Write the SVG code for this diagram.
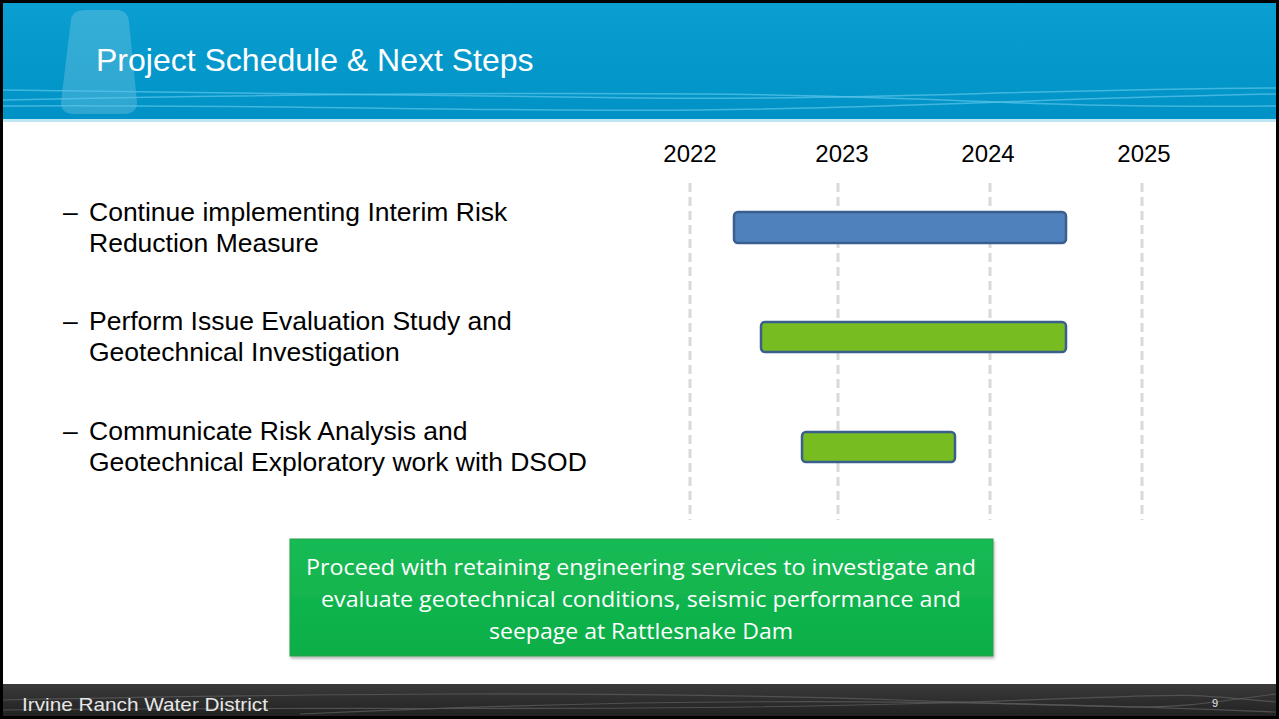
<svg xmlns="http://www.w3.org/2000/svg" width="1279" height="719" viewBox="0 0 1279 719">
<defs>
<style>
.bul{font-family:"Liberation Sans",Arial,sans-serif;font-size:26.5px;fill:#000}
.yr{font-family:"Liberation Sans",Arial,sans-serif;font-size:24px;fill:#000;text-anchor:middle}
.grid{stroke:#d9d9d9;stroke-width:3;stroke-dasharray:9 5}
.barb{fill:#4f81bd;stroke:#3a5f8f;stroke-width:2.5}
.barg{fill:#77bd21;stroke:#3a5f8f;stroke-width:2.5}
.box{font-family:"Open Sans","Noto Sans",sans-serif;font-size:22px;fill:#fff;text-anchor:middle}
.wave{fill:none;stroke:#5cc6ea;stroke-width:1.5;opacity:0.7}
.fwave{fill:none;stroke:#5a5a5a;stroke-width:1.2;opacity:0.8}
</style>
<linearGradient id="hdr" x1="0" y1="0" x2="0" y2="1">
<stop offset="0" stop-color="#0a9fd0"/>
<stop offset="1" stop-color="#0092c6"/>
</linearGradient>
<linearGradient id="ftr" x1="0" y1="0" x2="0" y2="1">
<stop offset="0" stop-color="#3a3a3a"/>
<stop offset="1" stop-color="#222"/>
</linearGradient>
<linearGradient id="gbox" x1="0" y1="0" x2="0" y2="1">
<stop offset="0" stop-color="#19bb55"/>
<stop offset="1" stop-color="#0aae47"/>
</linearGradient>
<filter id="sh" x="-5%" y="-10%" width="110%" height="130%">
<feDropShadow dx="1" dy="2" stdDeviation="1.5" flood-color="#000" flood-opacity="0.3"/>
</filter>
</defs>
<rect x="0" y="0" width="1279" height="719" fill="#000"/>
<rect x="3" y="3" width="1273" height="713" fill="#fff"/>
<g id="header">
<rect x="3" y="3" width="1273" height="117" fill="url(#hdr)"/>
<rect x="3" y="119" width="1273" height="3" fill="#bfe6f3"/>
<path d="M71 20 Q72 10 86 10 L116 10 Q128 10 129 22 L137 102 Q137 114 124 114 L74 114 Q61 114 61 102 Z" fill="#ffffff" opacity="0.18"/>
<path class="wave" d="M3 90 C200 92 400 96 640 98 S1000 90 1276 88"/>
<path class="wave" d="M3 100 C200 96 450 92 700 94 S1000 108 1276 106"/>
<path class="wave" d="M3 106 C250 104 500 112 700 110 S1050 98 1276 94"/>
<text x="96" y="71" font-family="'Liberation Sans',Arial,sans-serif" font-size="32" fill="#fff">Project Schedule &amp; Next Steps</text>
</g>
<g id="bullets">
<text class="bul" x="63" y="221">–</text>
<text class="bul" x="89" y="221">Continue implementing Interim Risk</text>
<text class="bul" x="89" y="252">Reduction Measure</text>
<text class="bul" x="63" y="330">–</text>
<text class="bul" x="89" y="330">Perform Issue Evaluation Study and</text>
<text class="bul" x="89" y="361">Geotechnical Investigation</text>
<text class="bul" x="63" y="440">–</text>
<text class="bul" x="89" y="440">Communicate Risk Analysis and</text>
<text class="bul" x="89" y="471">Geotechnical Exploratory work with DSOD</text>
</g>
<g id="timeline">
<text class="yr" x="690" y="162">2022</text>
<text class="yr" x="842" y="162">2023</text>
<text class="yr" x="988" y="162">2024</text>
<text class="yr" x="1144" y="162">2025</text>
<line class="grid" x1="690" y1="183" x2="690" y2="520"/>
<line class="grid" x1="838" y1="183" x2="838" y2="520"/>
<line class="grid" x1="990" y1="183" x2="990" y2="520"/>
<line class="grid" x1="1142" y1="183" x2="1142" y2="520"/>
</g>
<g id="bar1"><rect class="barb" x="734" y="212" width="332" height="31" rx="4"/></g>
<g id="bar2"><rect class="barg" x="761" y="322" width="305" height="30" rx="4"/></g>
<g id="bar3"><rect class="barg" x="802" y="432" width="153" height="30" rx="4"/></g>
<g id="action">
<rect x="290" y="539" width="703" height="117" fill="url(#gbox)" stroke="#2e9e4a" stroke-width="1" filter="url(#sh)"/>
<text class="box" x="641" y="575" textLength="670" lengthAdjust="spacingAndGlyphs">Proceed with retaining engineering services to investigate and</text>
<text class="box" x="641" y="607" textLength="640" lengthAdjust="spacingAndGlyphs">evaluate geotechnical conditions, seismic performance and</text>
<text class="box" x="641" y="639" textLength="304" lengthAdjust="spacingAndGlyphs">seepage at Rattlesnake Dam</text>
</g>
<g id="footer">
<rect x="3" y="684" width="1273" height="32" fill="url(#ftr)"/>
<path class="fwave" d="M3 700 C300 694 600 690 900 700 S1150 710 1276 694"/>
<path class="fwave" d="M3 710 C300 706 600 712 900 704 S1150 690 1276 702"/>
<path class="fwave" d="M300 714 C600 700 900 696 1276 712"/>
<text x="22" y="711" font-family="'Liberation Sans',Arial,sans-serif" font-size="19" fill="#e6e6e6" textLength="246" lengthAdjust="spacingAndGlyphs">Irvine Ranch Water District</text>
<text x="1212" y="707" font-family="'Liberation Sans',Arial,sans-serif" font-size="11" fill="#e6e6e6">9</text>
</g>
</svg>
